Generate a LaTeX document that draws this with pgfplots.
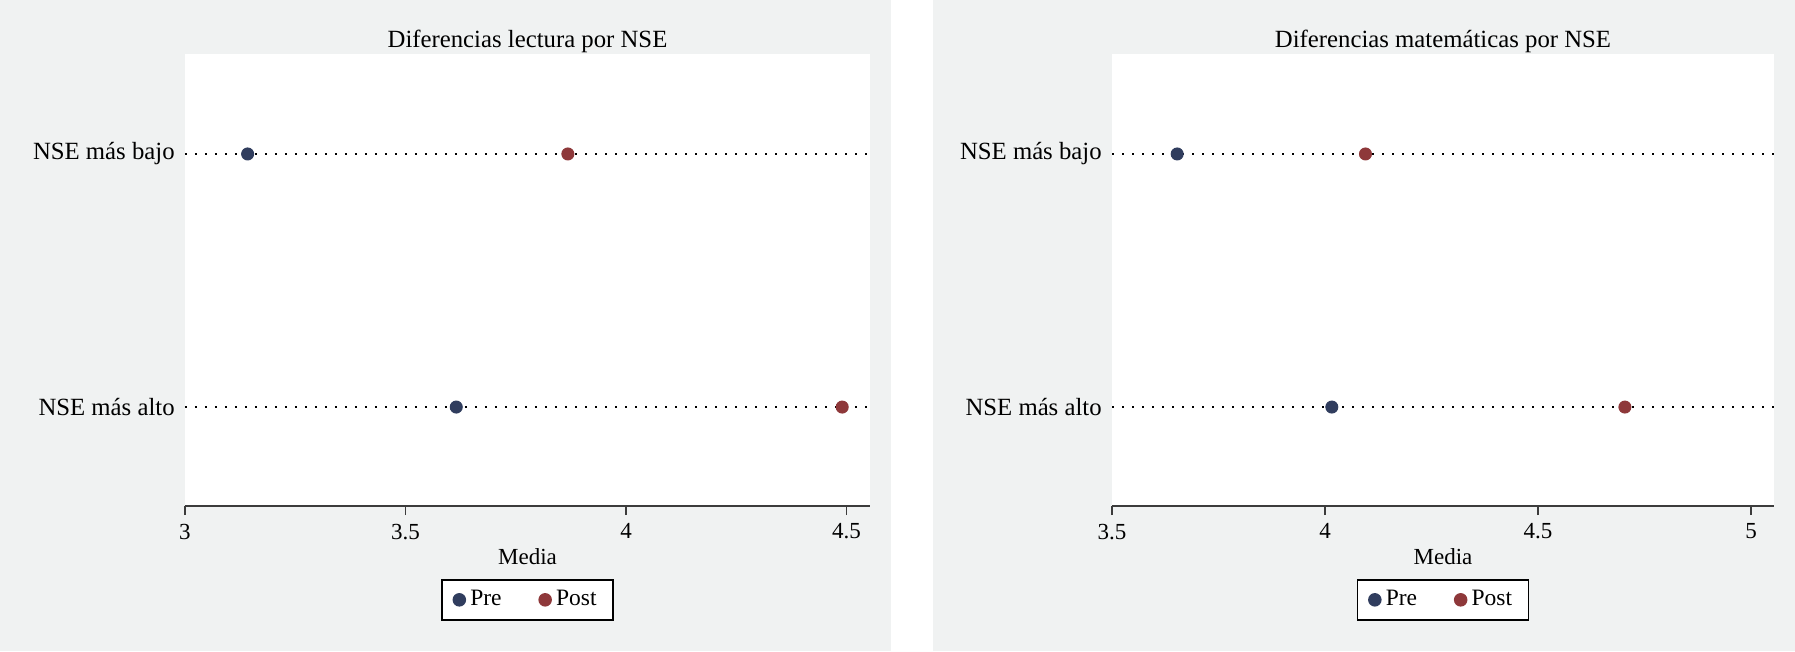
\documentclass[border=0pt]{standalone}
\usepackage{pgfplots}
\pgfplotsset{compat=1.18}
\usepackage{fontspec}
\setmainfont{Liberation Serif}
\definecolor{bgpanel}{RGB}{240,242,242}
\definecolor{prec}{RGB}{48,61,94}
\definecolor{postc}{RGB}{142,56,58}
\definecolor{axc}{RGB}{60,60,60}
\pgfplotsset{
  panel/.style={
    scale only axis,
    width=#1, height=180.8pt,
    axis background/.style={fill=white},
    axis lines*=left,
    x axis line style={draw=axc, line width=0.6pt, -},
    y axis line style={draw=none},
    ytick style={draw=none},
    xtick style={draw=axc, line width=0.6pt},
    tick align=outside,
    major tick length=3.6pt,
    ymin=0.609, ymax=2.395,
    ytick={1,2},
    yticklabels={NSE más alto, NSE más bajo},
    yticklabel style={font=\fontsize{9.9}{12}\selectfont, xshift=3pt},
    xticklabel style={font=\fontsize{9.2}{11}\selectfont},
    /pgf/number format/assume math mode=true,
    ymajorgrids,
    y grid style={black, line width=0.7pt, dash pattern=on 0.7pt off 3.3pt},
    xlabel={Media},
    xlabel style={font=\fontsize{9.2}{11}\selectfont, yshift=3.2pt},
    title style={font=\fontsize{9.9}{12}\selectfont, at={(0.5,1)}, anchor=base, yshift=-3.2pt},
    legend columns=2,
    legend style={at={(0.5,0)}, anchor=north, yshift=-29.2pt,
      draw=black, line width=0.6pt, fill=white,
      font=\fontsize{9.4}{11}\selectfont,
      inner xsep=4.5pt, inner ysep=2.2pt,
      /tikz/every even column/.append style={column sep=13pt}},
    clip=false,
  },
  pre/.style={only marks, mark=*, mark size=2.4pt, color=prec, mark options={fill=prec, draw=prec}},
  post/.style={only marks, mark=*, mark size=2.4pt, color=postc, mark options={fill=postc, draw=postc}},
}
\begin{document}
\begin{tikzpicture}
\useasboundingbox (0,0) rectangle (718pt,260.4pt);
\fill[white] (0,0) rectangle (718pt,260.4pt);
\fill[bgpanel] (0,0) rectangle (356.4pt,260.4pt);
\fill[bgpanel] (373.2pt,0) rectangle (718pt,260.4pt);

\begin{axis}[panel=274pt, at={(74pt,58pt)}, anchor=south west,
  xmin=3, xmax=4.553, xtick={3,3.5,4,4.5},
  title={Diferencias lectura por NSE}]
\addplot[pre] coordinates {(3.142,2) (3.615,1)};
\addlegendentry{Pre}
\addplot[post] coordinates {(3.868,2) (4.490,1)};
\addlegendentry{Post}
\end{axis}

\begin{axis}[panel=264.8pt, at={(444.8pt,58pt)}, anchor=south west,
  xmin=3.5, xmax=5.054, xtick={3.5,4,4.5,5},
  title={Diferencias matemáticas por NSE}]
\addplot[pre] coordinates {(3.653,2) (4.016,1)};
\addlegendentry{Pre}
\addplot[post] coordinates {(4.095,2) (4.704,1)};
\addlegendentry{Post}
\end{axis}
\end{tikzpicture}
\end{document}
